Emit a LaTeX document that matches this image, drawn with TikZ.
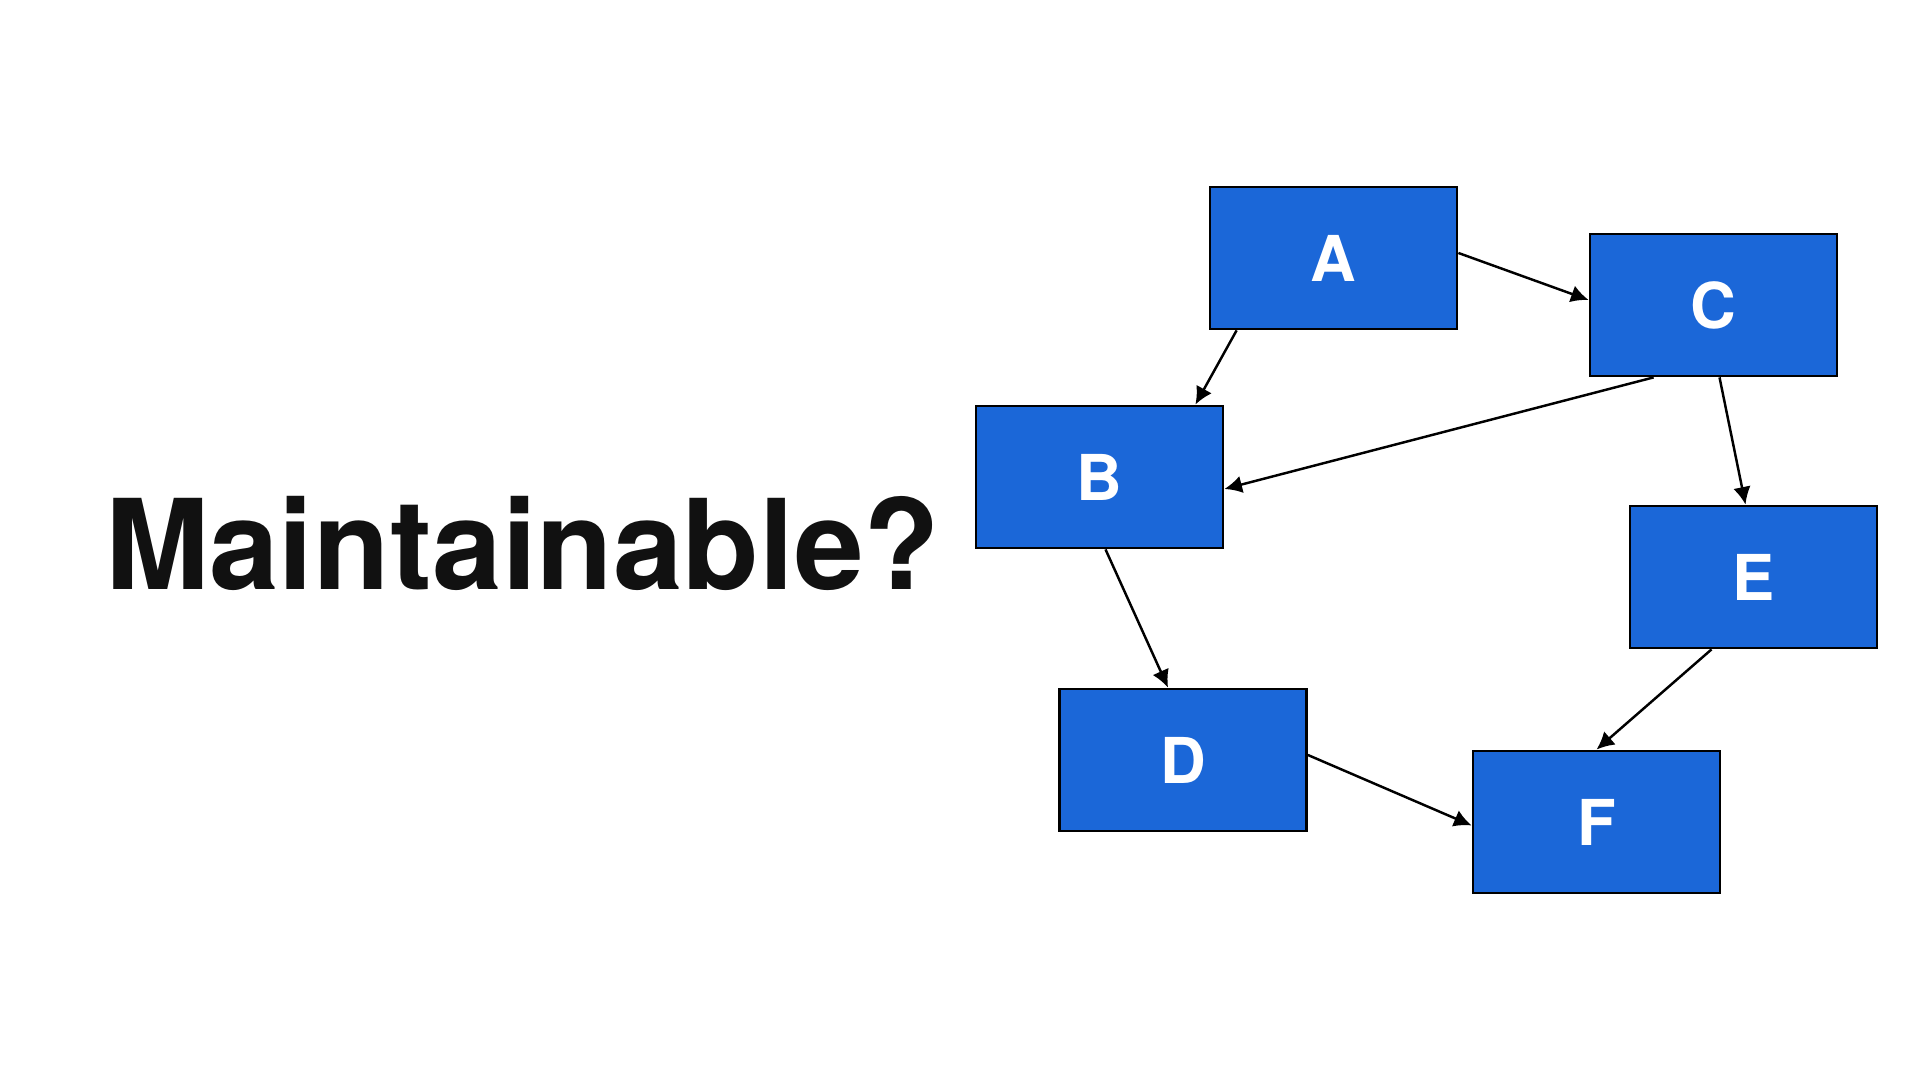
\documentclass[tikz,border=0pt]{standalone}
\usepackage{fontspec}
\setmainfont{TeX Gyre Heros}
\usetikzlibrary{arrows.meta}
\definecolor{bluebox}{HTML}{1B67D8}
\definecolor{quasinero}{HTML}{111111}
\tikzset{
  blocco/.style={draw=black, fill=bluebox, line width=0.8pt, minimum width=2.47cm,
    minimum height=1.42cm, inner sep=0pt, text=white, font=\fontsize{18}{18}\selectfont\bfseries},
  freccia/.style={-{Latex[length=5pt,width=5pt]}, line width=0.7pt, draw=black}
}

\begin{document}
\begin{tikzpicture}[x=1cm, y=1cm]
    \useasboundingbox (0,0) rectangle (19.2,10.8);

    \node[anchor=base west, inner sep=0pt, text=quasinero,
      font=\fontsize{35.6}{35.6}\selectfont\bfseries] (titolo) at (1.045,4.9) {Maintainable?};

    \node[blocco] (A) at (13.335,8.22) {A};
    \node[blocco] (C) at (17.135,7.75) {C};
    \node[blocco] (B) at (10.995,6.03) {B};
    \node[blocco] (E) at (17.535,5.03) {E};
    \node[blocco] (D) at (11.83,3.20) {D};
    \node[blocco] (F) at (15.965,2.58) {F};

    \draw[freccia] ([xshift=0.28cm]A.south west) -- ([xshift=-0.29cm]B.north east);
    \draw[freccia] ([yshift=0.05cm]A.east) -- ([yshift=0.05cm]C.west);
    \draw[freccia] ([xshift=0.65cm]C.south west) -- ([yshift=-0.12cm]B.east);
    \draw[freccia] ([xshift=0.06cm]C.south) -- ([xshift=-0.08cm]E.north);
    \draw[freccia] ([xshift=0.06cm]B.south) -- ([xshift=-0.15cm]D.north);
    \draw[freccia] ([xshift=-0.42cm]E.south) -- (F.north);
    \draw[freccia] ([yshift=0.05cm]D.east) -- ([yshift=-0.035cm]F.west);
\end{tikzpicture}
\end{document}
